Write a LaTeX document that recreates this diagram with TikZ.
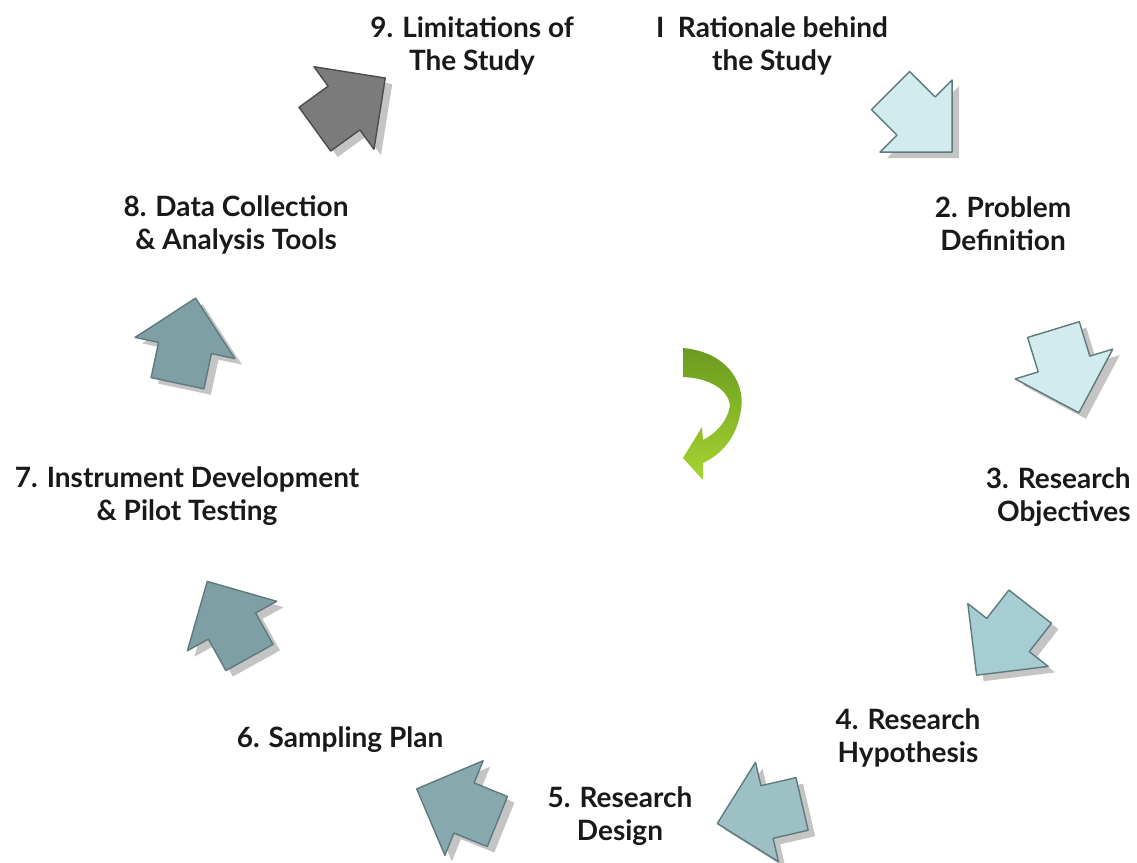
\documentclass[tikz,border=0pt]{standalone}
\usepackage{fontspec}
\setmainfont{Lato}
\usetikzlibrary{positioning}

\definecolor{paleBlue}{HTML}{D2EBEE}
\definecolor{midBlue}{HTML}{A6CDD1}
\definecolor{slateBlue}{HTML}{9DC0C4}
\definecolor{deepSlate}{HTML}{87A9AD}
\definecolor{darkSlate}{HTML}{7E9FA3}
\definecolor{stoneGray}{HTML}{7B7B7B}
\definecolor{edgeSlate}{HTML}{5E7A7C}
\definecolor{shadowGray}{HTML}{C4C4C4}
\definecolor{leafDark}{HTML}{6A9B1E}
\definecolor{leafLight}{HTML}{A6D432}

\begin{document}
\begin{tikzpicture}[x=0.5pt,y=-0.5pt,
    steplabel/.style={font=\fontsize{14}{16.5}\selectfont\bfseries, text=black!90, align=center, inner sep=0pt},
    pics/cycarrow/.style={code={
        \draw[line join=round, line width=0.7pt, #1]
          (0,51) -- (51,0) -- (0,-51) -- (0,-27) -- (-36,-27) -- (-36,27) -- (0,27) -- cycle;
    }}]
    \useasboundingbox (0,0) rectangle (1137,863);

    % block arrows round the cycle: x / y / angle / fill / edge
    \foreach \x/\y/\a/\c/\e in {916/116/-45/paleBlue/edgeSlate, 1064/364/-73/paleBlue/edgeSlate,
        1008/635/-128/midBlue/edgeSlate, 767/812/-167/slateBlue/edgeSlate,
        464/808/158/deepSlate/edgeSlate, 232/626/119/darkSlate/edgeSlate,
        185/348/78/darkSlate/edgeSlate, 344/108/36/stoneGray/black!70}{
      \pic[rotate=\a] at (\x+7,\y+6) {cycarrow={fill=shadowGray, draw=none}};
      \pic[rotate=\a] at (\x,\y) {cycarrow={fill=\c, draw=\e}};
    }

    % green turn arrow in the middle
    \shade[top color=leafDark, bottom color=leafLight]
      (683,348) .. controls (728,352) and (748,385) .. (740,415)
      .. controls (735,440) and (720,455) .. (703,463)
      -- (703,480) -- (683,458) -- (702,427) -- (703,440)
      .. controls (718,432) and (728,420) .. (730,405)
      .. controls (728,390) and (710,378) .. (683,377) -- cycle;

    % step labels
    \node[steplabel] (limits) at (472,46) {9. Limitations of\\The Study};
    \node[steplabel] (rationale) at (772,46) {I~ Rationale behind\\the Study};
    \node[steplabel] (problem) at (1003,224) {2. Problem\\Definition};
    \node[steplabel, anchor=east, align=right] (objectives) at (1131,497) {3. Research\\Objectives};
    \node[steplabel] (hypothesis) at (908,738) {4. Research\\Hypothesis};
    \node[steplabel] (design) at (620,816) {5. Research\\Design};
    \node[steplabel] (sampling) at (340,740) {6. Sampling Plan};
    \node[steplabel] (instrument) at (187,496) {7. Instrument Development\\\& Pilot Testing};
    \node[steplabel] (collection) at (236,225) {8. Data Collection\\\& Analysis Tools};
\end{tikzpicture}
\end{document}
